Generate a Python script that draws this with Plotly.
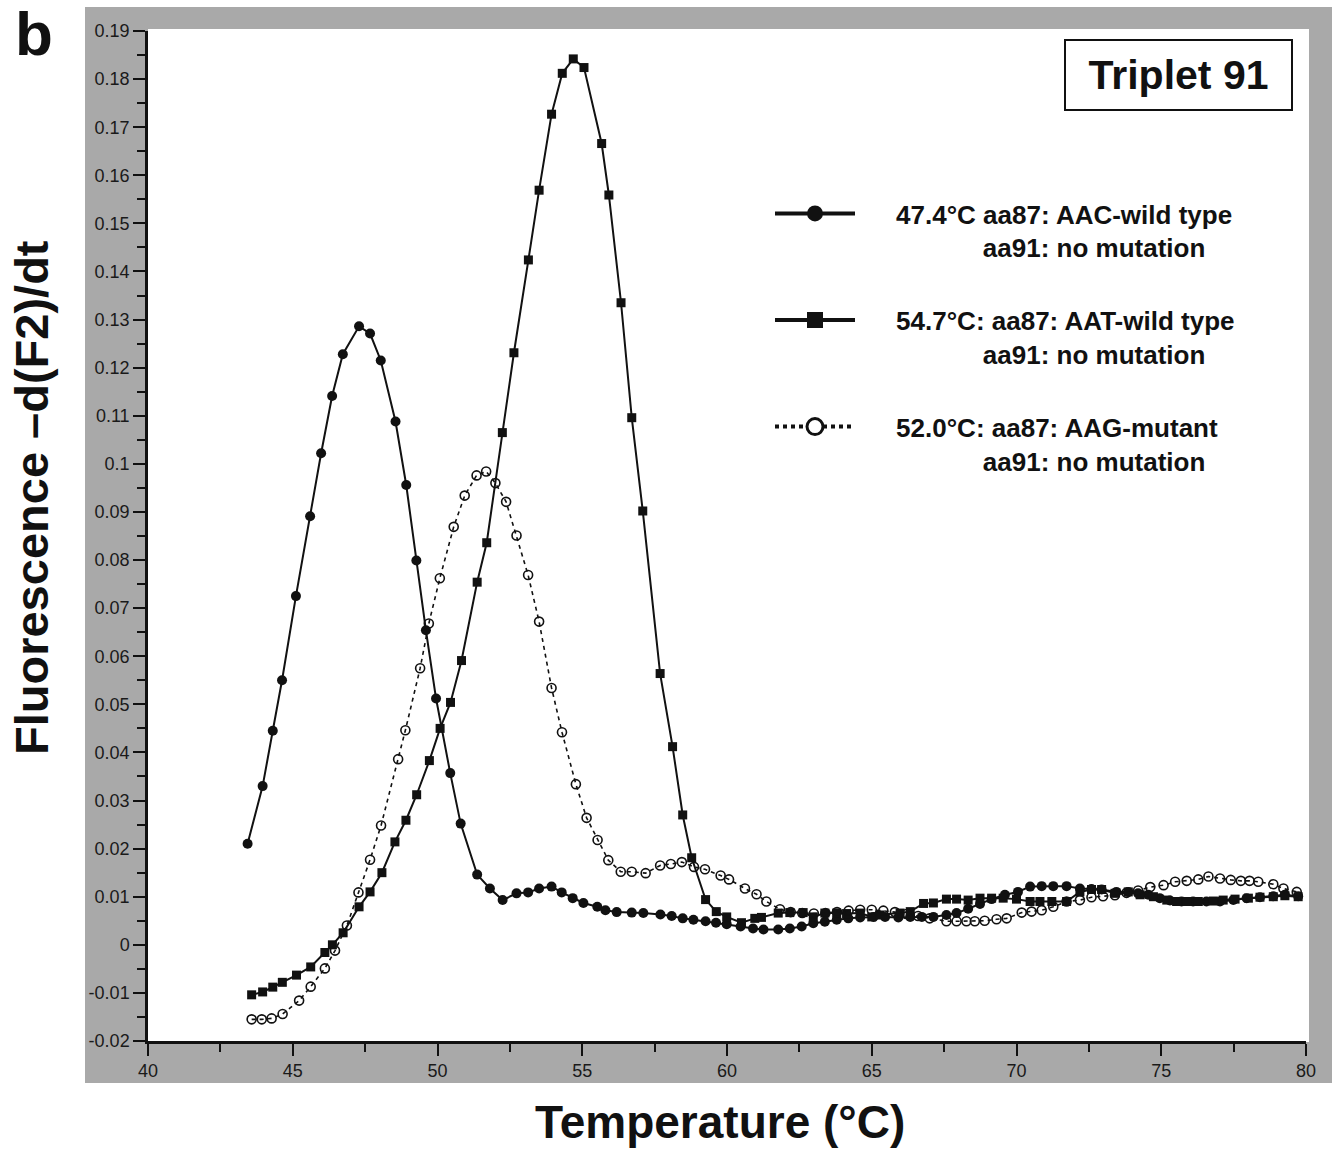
import plotly.graph_objects as go

# ---------------- data ----------------
temp_aac = [43.44, 43.96, 44.31, 44.63, 45.11, 45.60, 45.98, 46.36, 46.73, 47.29, 47.67, 48.04, 48.55, 48.92,
            49.27, 49.60, 49.95, 50.44, 50.80, 51.37, 51.81, 52.25, 52.73, 53.13, 53.51, 53.94, 54.29, 54.67,
            55.04, 55.52, 55.80, 56.19, 56.71, 57.11, 57.70, 58.09, 58.47, 58.84, 59.26, 59.62, 59.99, 60.47,
            60.90, 61.26, 61.77, 62.17, 62.58, 62.98, 63.38, 63.79, 64.19, 64.60, 65.06, 65.46, 65.92, 66.33,
            66.73, 67.13, 67.58, 67.93, 68.33, 68.74, 69.14, 69.60, 70.05, 70.47, 70.87, 71.27, 71.73, 72.19,
            72.59, 72.94, 73.45, 73.86, 74.20, 74.55, 74.95, 75.30, 75.70, 76.10, 76.56, 77.03, 77.49, 77.95,
            78.41, 78.87, 79.27, 79.73]
flu_aac = [0.0210, 0.0330, 0.0445, 0.0550, 0.0725, 0.0891, 0.1022, 0.1141, 0.1228, 0.1286, 0.1271, 0.1215,
           0.1088, 0.0956, 0.0799, 0.0654, 0.0512, 0.0357, 0.0252, 0.0146, 0.0117, 0.0093, 0.0107, 0.0109,
           0.0117, 0.0121, 0.0109, 0.0097, 0.0087, 0.0079, 0.0072, 0.0068, 0.0067, 0.0066, 0.0063, 0.0060,
           0.0055, 0.0052, 0.0049, 0.0046, 0.0043, 0.0038, 0.0034, 0.0032, 0.0032, 0.0034, 0.0038, 0.0045,
           0.0048, 0.0052, 0.0055, 0.0057, 0.0058, 0.0058, 0.0057, 0.0058, 0.0058, 0.0058, 0.0062, 0.0066,
           0.0075, 0.0085, 0.0095, 0.0104, 0.0110, 0.0121, 0.0122, 0.0122, 0.0122, 0.0117, 0.0116, 0.0115,
           0.0110, 0.0110, 0.0107, 0.0104, 0.0097, 0.0092, 0.0090, 0.0090, 0.0090, 0.0090, 0.0093, 0.0097,
           0.0099, 0.0101, 0.0104, 0.0101]

temp_aat = [43.58, 43.96, 44.31, 44.64, 45.13, 45.62, 46.11, 46.37, 46.74, 47.29, 47.67, 48.08, 48.53, 48.91,
            49.28, 49.72, 50.09, 50.45, 50.83, 51.37, 51.70, 52.24, 52.64, 53.14, 53.51, 53.94, 54.31, 54.69,
            55.06, 55.67, 55.92, 56.34, 56.71, 57.09, 57.69, 58.12, 58.47, 58.78, 59.26, 59.63, 59.99, 60.50,
            60.96, 61.19, 61.77, 62.17, 62.63, 62.98, 63.38, 63.79, 64.13, 64.60, 65.00, 65.29, 65.98, 66.33,
            66.79, 67.13, 67.58, 67.93, 68.33, 68.74, 69.14, 69.54, 70.00, 70.47, 70.81, 71.22, 71.73, 72.19,
            72.59, 72.94, 73.40, 73.86, 74.27, 74.73, 75.19, 75.53, 75.88, 76.28, 76.80, 77.14, 77.55, 78.01,
            78.41, 78.87, 79.27, 79.73]
flu_aat = [-0.0104, -0.0098, -0.0088, -0.0078, -0.0063, -0.0046, -0.0016, 0.0000, 0.0025, 0.0079, 0.0110,
           0.0150, 0.0214, 0.0259, 0.0312, 0.0383, 0.0450, 0.0504, 0.0591, 0.0754, 0.0836, 0.1065, 0.1231,
           0.1424, 0.1569, 0.1727, 0.1812, 0.1842, 0.1824, 0.1666, 0.1559, 0.1335, 0.1096, 0.0902, 0.0564,
           0.0412, 0.0270, 0.0181, 0.0094, 0.0069, 0.0058, 0.0046, 0.0055, 0.0057, 0.0066, 0.0067, 0.0067,
           0.0058, 0.0066, 0.0066, 0.0065, 0.0066, 0.0058, 0.0062, 0.0066, 0.0069, 0.0086, 0.0087, 0.0095,
           0.0095, 0.0093, 0.0097, 0.0097, 0.0097, 0.0095, 0.0090, 0.0090, 0.0090, 0.0090, 0.0110, 0.0115,
           0.0115, 0.0107, 0.0110, 0.0104, 0.0100, 0.0093, 0.0090, 0.0090, 0.0090, 0.0091, 0.0093, 0.0095,
           0.0097, 0.0099, 0.0100, 0.0102, 0.0100]

temp_aag = [43.58, 43.93, 44.27, 44.65, 45.22, 45.62, 46.11, 46.46, 46.87, 47.27, 47.67, 48.05, 48.64, 48.89,
            49.40, 49.70, 50.08, 50.56, 50.94, 51.35, 51.68, 52.00, 52.37, 52.73, 53.13, 53.51, 53.94, 54.30,
            54.78, 55.15, 55.53, 55.90, 56.33, 56.71, 57.19, 57.69, 58.06, 58.44, 58.86, 59.24, 59.78, 60.07,
            60.62, 61.02, 61.36, 61.83, 62.20, 62.60, 63.00, 63.40, 63.80, 64.20, 64.60, 65.00, 65.40, 65.80,
            66.20, 66.60, 67.00, 67.58, 67.93, 68.27, 68.56, 68.90, 69.31, 69.66, 70.18, 70.52, 70.87, 71.27,
            71.73, 72.19, 72.59, 72.99, 73.40, 73.80, 74.20, 74.62, 75.08, 75.48, 75.88, 76.28, 76.63, 77.03,
            77.40, 77.75, 78.05, 78.35, 78.87, 79.22, 79.68]
flu_aag = [-0.0155, -0.0155, -0.0153, -0.0144, -0.0116, -0.0087, -0.0049, -0.0012, 0.0040, 0.0109, 0.0177,
           0.0248, 0.0386, 0.0446, 0.0575, 0.0668, 0.0762, 0.0869, 0.0934, 0.0976, 0.0984, 0.0960, 0.0921,
           0.0851, 0.0769, 0.0672, 0.0534, 0.0442, 0.0334, 0.0264, 0.0218, 0.0176, 0.0152, 0.0152, 0.0149,
           0.0165, 0.0168, 0.0172, 0.0162, 0.0157, 0.0144, 0.0136, 0.0117, 0.0105, 0.0090, 0.0074, 0.0068,
           0.0066, 0.0065, 0.0066, 0.0068, 0.0071, 0.0073, 0.0073, 0.0071, 0.0068, 0.0064, 0.0060, 0.0055,
           0.0049, 0.0049, 0.0049, 0.0049, 0.0050, 0.0053, 0.0055, 0.0067, 0.0069, 0.0072, 0.0079, 0.0090,
           0.0093, 0.0099, 0.0101, 0.0103, 0.0108, 0.0113, 0.0120, 0.0124, 0.0131, 0.0133, 0.0136, 0.0142,
           0.0138, 0.0135, 0.0133, 0.0133, 0.0131, 0.0126, 0.0117, 0.0110]

legend_labels = [
    "47.4°C aa87: AAC-wild type",
    "54.7°C: aa87: AAT-wild type",
    "52.0°C: aa87: AAG-mutant",
]
legend_second_line = "aa91: no mutation"

x_tick_vals = [40, 45, 50, 55, 60, 65, 70, 75, 80]
x_tick_text = ["40", "45", "50", "55", "60", "65", "70", "75", "80"]
y_tick_vals = [0.19, 0.18, 0.17, 0.16, 0.15, 0.14, 0.13, 0.12, 0.11, 0.10, 0.09, 0.08, 0.07, 0.06,
               0.05, 0.04, 0.03, 0.02, 0.01, 0.0, -0.01, -0.02]
y_tick_text = ["0.19", "0.18", "0.17", "0.16", "0.15", "0.14", "0.13", "0.12", "0.11", "0.1", "0.09",
               "0.08", "0.07", "0.06", "0.05", "0.04", "0.03", "0.02", "0.01", "0", "-0.01", "-0.02"]

# ---------------- figure ----------------
W, H = 1338, 1154
ML, MR, MT, MB = 148, 32, 31, 113
PW, PH = W - ML - MR, H - MT - MB


def px_x(p):
    return (p - ML) / PW


def px_y(p):
    return (H - MB - p) / PH


BOLD = "Liberation Sans, Arial, Helvetica, sans-serif"
TICKF = "Liberation Sans Narrow, Arial Narrow, Liberation Sans, Arial, sans-serif"
BLACK = "#111111"

fig = go.Figure()

fig.add_trace(go.Scatter(
    x=temp_aac, y=flu_aac, mode="lines+markers", showlegend=False,
    line=dict(color=BLACK, width=2),
    marker=dict(symbol="circle", size=10, color=BLACK)))
fig.add_trace(go.Scatter(
    x=temp_aat, y=flu_aat, mode="lines+markers", showlegend=False,
    line=dict(color=BLACK, width=2),
    marker=dict(symbol="square", size=9, color=BLACK)))
fig.add_trace(go.Scatter(
    x=temp_aag, y=flu_aag, mode="lines+markers", showlegend=False,
    line=dict(color=BLACK, width=1.6, dash="4px,4px"),
    marker=dict(symbol="circle-open", size=9, color=BLACK, line=dict(width=1.6, color=BLACK))))

# legend-only entries (thicker sample lines, as in the reference legend)
pad1 = "\u00a0" * 5
pad2 = "\u00a0" * 17
legend_styles = [
    dict(line=dict(color=BLACK, width=4), marker=dict(symbol="circle", size=16, color=BLACK)),
    dict(line=dict(color=BLACK, width=4), marker=dict(symbol="square", size=16, color=BLACK)),
    dict(line=dict(color=BLACK, width=4, dash="dot"),
         marker=dict(symbol="circle", size=16, color="white", line=dict(color=BLACK, width=3))),
]
for i, (lab, sty) in enumerate(zip(legend_labels, legend_styles)):
    fig.add_trace(go.Scatter(
        x=[None], y=[None], mode="lines+markers", name=pad1 + lab + "<br>" + pad2 + legend_second_line,
        legendgroup="g%d" % i, showlegend=True, **sty))

# grey frame and white plotting window
fig.add_shape(type="rect", xref="paper", yref="paper", layer="below",
              x0=px_x(85), x1=px_x(1332), y0=px_y(1083), y1=px_y(7),
              fillcolor="#a9a9a9", line=dict(width=0))
fig.add_shape(type="rect", xref="paper", yref="paper", layer="below",
              x0=px_x(148), x1=px_x(1309), y0=px_y(1042), y1=px_y(29),
              fillcolor="white", line=dict(width=0))

fig.add_annotation(text="Triplet 91", xref="paper", yref="paper",
                   x=px_x(1178.5), y=px_y(75), xanchor="center", yanchor="middle",
                   showarrow=False, width=225, height=68, borderpad=0,
                   bgcolor="white", bordercolor=BLACK, borderwidth=2,
                   font=dict(family=BOLD, size=41, color=BLACK, weight="bold"))
fig.add_annotation(text="b", xref="paper", yref="paper", x=px_x(34), y=px_y(33),
                   xanchor="center", yanchor="middle", showarrow=False,
                   font=dict(family=BOLD, size=62, color=BLACK, weight="bold"))
fig.add_annotation(text="Fluorescence \u2013d(F2)/dt", xref="paper", yref="paper",
                   x=px_x(32), y=px_y(498), xanchor="center", yanchor="middle",
                   textangle=-90, showarrow=False,
                   font=dict(family=BOLD, size=47, color=BLACK, weight="bold"))
fig.add_annotation(text="Temperature (°C)", xref="paper", yref="paper",
                   x=px_x(720), y=px_y(1122), xanchor="center", yanchor="middle",
                   showarrow=False,
                   font=dict(family=BOLD, size=46, color=BLACK, weight="bold"))

axis_common = dict(showgrid=False, zeroline=False, showline=True, linecolor=BLACK, linewidth=2.5,
                   ticks="outside", tickcolor=BLACK, tickwidth=2, ticklen=12,
                   tickfont=dict(family=TICKF, size=18, color="#1a1a1a"), mirror=False)

fig.update_xaxes(range=[40, 80], tickmode="array", tickvals=x_tick_vals, ticktext=x_tick_text,
                 minor=dict(tickmode="linear", tick0=40, dtick=2.5, ticks="outside", ticklen=8,
                            tickwidth=2, tickcolor=BLACK, showgrid=False),
                 **axis_common)
fig.update_yaxes(range=[-0.02, 0.19], tickmode="array", tickvals=y_tick_vals, ticktext=y_tick_text,
                 minor=dict(tickmode="linear", tick0=0, dtick=0.005, ticks="outside", ticklen=8,
                            tickwidth=2, tickcolor=BLACK, showgrid=False),
                 **axis_common)

fig.update_layout(
    width=W, height=H, autosize=False,
    margin=dict(l=ML, r=MR, t=MT, b=MB, pad=0),
    paper_bgcolor="white", plot_bgcolor="white",
    showlegend=True,
    legend=dict(x=px_x(770), y=px_y(190), xanchor="left", yanchor="top",
                bgcolor="rgba(0,0,0,0)", borderwidth=0, itemwidth=80, valign="top",
                traceorder="grouped", tracegroupgap=36, itemclick=False, itemdoubleclick=False,
                font=dict(family=BOLD, size=26, color=BLACK, weight="bold")),
)

fig.write_html("out.html", config={"displayModeBar": False},
               post_script="document.body.style.margin='0px';document.body.style.padding='0px';")
